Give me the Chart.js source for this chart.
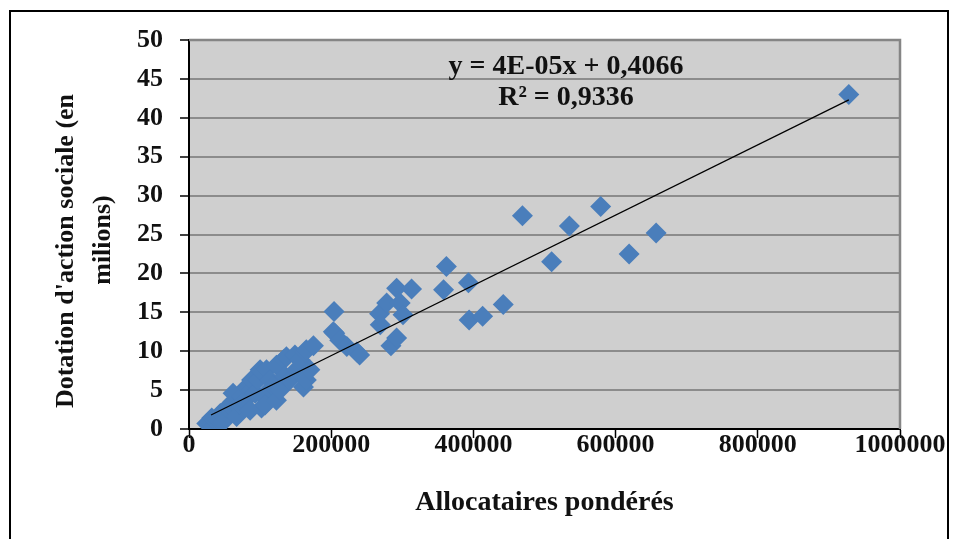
<!DOCTYPE html>
<html>
<head>
<meta charset="utf-8">
<script src="https://cdn.jsdelivr.net/npm/chart.js@4/dist/chart.umd.min.js"></script>
<style>
html,body{margin:0;padding:0;background:#fff;}
#wrap{position:relative;width:959px;height:539px;}
</style>
</head>
<body>
<div id="wrap"><canvas id="c" width="959" height="539"></canvas></div>
<script>
// Allocataires pondérés (x) and Dotation d'action sociale en millions (y)
const allocataires = [
  25000, 34000, 32000, 40000, 44000, 48000, 53000, 57000, 62000, 62000, 67000, 70000, 74000, 78000,
  81000, 86000, 88000, 88000, 93000, 97000, 100000, 102000, 104000, 107000, 109000, 114000, 118000,
  123000, 123000, 128000, 133000, 135000, 137000, 142000, 149000, 151000, 156000, 161000, 163000,
  165000, 165000, 170000, 175000,
  203000, 204000, 205000, 212000, 222000, 236000, 240000, 268000, 269000, 278000, 284000, 292000,
  292000, 297000, 301000, 313000,
  358000, 362000, 393000, 394000, 413000, 442000, 469000, 510000, 535000, 579000, 619000, 657000, 928000
];
const dotation = [
  0.7, 0.3, 1.4, 1.2, 2.0, 0.9, 2.7, 3.0, 3.5, 4.6, 1.6, 3.2, 4.2, 3.6,
  5.4, 2.4, 5.0, 6.3, 4.6, 6.3, 7.6, 2.7, 4.2, 3.1, 7.6, 6.3, 5.5,
  8.2, 3.7, 5.0, 8.9, 6.8, 9.3, 6.3, 9.5, 7.6, 8.9, 5.4, 9.9,
  10.2, 6.3, 7.6, 10.7,
  12.5, 15.1, 12.3, 11.4, 10.6, 9.9, 9.5, 14.8, 13.4, 16.2, 10.7, 18.1,
  11.7, 16.2, 14.7, 18.0,
  17.9, 20.9, 18.8, 14.0, 14.5, 16.0, 27.4, 21.5, 26.1, 28.6, 22.5, 25.2, 43.0
];
// Linear trend line end points
const trendX = [31000, 928000];
const trendY = [1.8, 42.3];
const equationLines = ["y = 4E-05x + 0,4066", "R\u00B2 = 0,9336"];
const xTitle = "Allocataires pondérés";
const yTitle = ["Dotation d'action sociale (en", "milions)"];

const FONT = "'Liberation Serif', 'DejaVu Serif', serif";

const points = allocataires.map((x, i) => ({x: x, y: dotation[i]}));
const trend = trendX.map((x, i) => ({x: x, y: trendY[i]}));

const frame = {
  id: 'frame',
  beforeDraw(chart) {
    const {ctx, chartArea: a} = chart;
    ctx.save();
    ctx.fillStyle = '#ffffff';
    ctx.fillRect(0, 0, chart.width, chart.height);
    ctx.fillStyle = '#cfcfcf';
    ctx.fillRect(a.left, a.top, a.right - a.left, a.bottom - a.top);
    ctx.restore();
  },
  afterDatasetsDraw(chart) {
    const {ctx, chartArea: a} = chart;
    ctx.save();
    ctx.strokeStyle = '#858585';
    ctx.lineWidth = 2.5;
    ctx.beginPath();
    ctx.moveTo(a.left, a.top);
    ctx.lineTo(a.right, a.top);
    ctx.lineTo(a.right, a.bottom);
    ctx.stroke();
    ctx.restore();
  },
  afterDraw(chart) {
    const {ctx} = chart;
    ctx.save();
    ctx.strokeStyle = '#000';
    ctx.lineWidth = 2;
    ctx.strokeRect(10, 11, 938, 560);
    ctx.fillStyle = '#111';
    ctx.font = "bold 28px " + FONT;
    ctx.textAlign = 'center';
    ctx.textBaseline = 'middle';
    ctx.fillText(equationLines[0], 566, 67);
    ctx.fillText(equationLines[1], 566, 98);
    // y axis title (two lines, rotated)
    ctx.font = "bold 26px " + FONT;
    ctx.translate(66, 251);
    ctx.rotate(-Math.PI / 2);
    ctx.fillText(yTitle[0], 0, 0);
    ctx.fillText(yTitle[1], 11, 37);
    ctx.restore();
  }
};

new Chart(document.getElementById('c'), {
  type: 'scatter',
  data: {
    datasets: [
      {
        type: 'line',
        data: trend,
        borderColor: '#000',
        borderWidth: 1.2,
        pointRadius: 0,
        fill: false,
        order: 0
      },
      {
        data: points,
        backgroundColor: '#4a7ebb',
        borderColor: '#4a7ebb',
        borderWidth: 0,
        pointStyle: 'rectRot',
        pointRadius: 10.5,
        pointHoverRadius: 10.5,
        order: 1
      }
    ]
  },
  options: {
    responsive: false,
    animation: false,
    events: [],
    layout: {padding: {top: 40, right: 59, left: 0, bottom: 0}},
    plugins: {legend: {display: false}, tooltip: {enabled: false}},
    scales: {
      x: {
        type: 'linear',
        min: 0, max: 1000000,
        afterFit(s) { s.height = 110; },
        ticks: {
          stepSize: 200000,
          autoSkip: false,
          maxRotation: 0,
          padding: -8,
          color: '#111',
          font: {family: FONT, size: 26, weight: 'bold'},
          callback: v => String(v)
        },
        grid: {drawOnChartArea: false, tickLength: 9, tickColor: '#000', tickWidth: 1.5},
        border: {color: '#000', width: 2},
        title: {
          display: true,
          text: xTitle,
          color: '#111',
          font: {family: FONT, size: 28, weight: 'bold'},
          padding: {top: 0, bottom: 19}
        }
      },
      y: {
        min: 0, max: 50,
        afterFit(s) { s.width = 189; },
        ticks: {
          stepSize: 5,
          padding: 17,
          color: '#111',
          font: {family: FONT, size: 26, weight: 'bold'}
        },
        grid: {
          color: '#8c8c8c',
          lineWidth: 2,
          borderDash: [8, 5],
          tickLength: 9,
          tickColor: '#000',
          tickWidth: 1.5,
          tickBorderDash: []
        },
        border: {color: '#000', width: 2},
        title: {display: false}
      }
    }
  },
  plugins: [frame]
});
</script>
</body>
</html>
